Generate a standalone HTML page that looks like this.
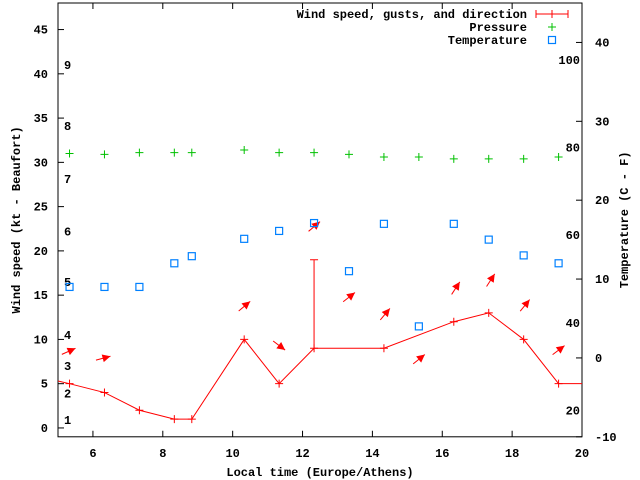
<!DOCTYPE html>
<html><head><meta charset="utf-8"><style>
body{margin:0;background:#fff}
svg{display:block;font-family:"Liberation Mono",monospace;font-size:12px;font-weight:bold}
</style></head><body>
<svg id="c" width="640" height="480" xmlns="http://www.w3.org/2000/svg"></svg>
<script>
const times=[5.33,6.33,7.33,8.33,8.83,10.33,11.33,12.33,13.33,14.33,15.33,16.33,17.33,18.33,19.33];
const windTimes=[5.33,6.33,7.33,8.33,8.83,10.33,11.33,12.33,14.33,16.33,17.33,18.33,19.33];
const windSpeed=[5,4,2,1,1,10,5,9,9,12,13,10,5];
const gustTime=[12.33];
const gustValue=[19];
const pressure=[31,30.9,31.1,31.1,31.1,31.4,31.1,31.1,30.9,30.6,30.6,30.4,30.4,30.4,30.6];
const temperature=[9,9,9,12,12.9,15.1,16.1,17.1,11,17,4,17,15,13,12];
const arrowTimes=[5.33,6.33,10.33,11.33,12.33,13.33,14.33,15.33,16.33,17.33,18.33,19.33];
const arrowLevel=[9.0,8.1,14.3,8.8,23.3,15.3,13.5,8.3,16.5,17.4,14.5,9.3];
const arrowAngle=[24,15,40,-37,40,38,50,39,57,57,51,37];
const xTicks=[6,8,10,12,14,16,18,20];
const yTicks=[0,5,10,15,20,25,30,35,40,45];
const y2Ticks=[-10,0,10,20,30,40];
const fTicks=[20,40,60,80,100];
const bftLabels=[1,2,3,4,5,6,7,8,9];
const bftLevel=[0.9,3.9,7,10.5,16.5,22.2,28.1,34.1,41];

const L=58,R=582,T=3,B=436.8;
const X=v=>L+(v-5)/(20-5)*(R-L);
const Y=v=>B-(v+1)/(48+1)*(B-T);
const Y2=v=>B-(v+10)/(45+10)*(B-T);
const svg=document.getElementById('c');
const NS='http://www.w3.org/2000/svg';
function mk(tag,attrs,parent){const e=document.createElementNS(NS,tag);for(const k in attrs)e.setAttribute(k,attrs[k]);(parent||svg).appendChild(e);return e;}
function txt(s,x,y,anchor,name){const t=mk('text',{x:x,y:y,'text-anchor':anchor});t.textContent=s;


return t;}
function plus(x,y,col,name){const g=mk('path',{d:`M${x-4},${y}h8M${x},${y-4}v8`,stroke:col,'stroke-width':1,fill:'none'});

}

// frame
const fr=mk('rect',{x:L,y:T,width:R-L,height:B-T,fill:'none',stroke:'#000','stroke-width':1});


xTicks.forEach(v=>{const x=X(v);mk('path',{d:`M${x},${B}v-6M${x},${T}v6`,stroke:'#000'});
txt(String(v),x,B+20,'middle','x-tick-label');});
yTicks.forEach(v=>{const y=Y(v);mk('path',{d:`M${L},${y}h6`,stroke:'#000'});
txt(String(v),L-10,y+4,'end','y-tick-label');});
y2Ticks.forEach(v=>{const y=Y2(v);mk('path',{d:`M${R},${y}h-6`,stroke:'#000'});
txt(String(v),R+13,y+4,'start','y2-tick-label');});
fTicks.forEach(v=>{const y=Y2((v-32)*5/9);txt(String(v),R-2,y+4,'end','fahrenheit-label');});
bftLabels.forEach((v,i)=>{txt(String(v),64,Y(bftLevel[i])+4,'start','beaufort-label');});

txt('Local time (Europe/Athens)',(L+R)/2,476,'middle','x-axis-title');
const yt=txt('Wind speed (kt - Beaufort)',0,0,'middle','y-axis-title');yt.setAttribute('transform',`translate(20,${(T+B)/2}) rotate(-90)`);
const y2t=txt('Temperature (C - F)',0,0,'middle','y2-axis-title');y2t.setAttribute('transform',`translate(628,${(T+B)/2}) rotate(-90)`);

// wind line
let d=`M${L},${Y(windSpeed[0]+0.3)}`;
windTimes.forEach((t,i)=>{d+=`L${X(t)},${Y(windSpeed[i])}`;});
d+=`L${R},${Y(windSpeed[windSpeed.length-1])}`;
const wl=mk('path',{d:d,stroke:'#f00',fill:'none','stroke-width':1});


windTimes.forEach((t,i)=>plus(X(t),Y(windSpeed[i]),'#f00','wind-point'));
gustTime.forEach((t,i)=>{const gi=windTimes.indexOf(t);const x=X(t);
const g=mk('path',{d:`M${x},${Y(windSpeed[gi])}V${Y(gustValue[i])}M${x-4},${Y(gustValue[i])}h8`,stroke:'#f00',fill:'none'});

});

// arrows
arrowTimes.forEach((t,i)=>{const hx=X(t)+6,hy=Y(arrowLevel[i]);const a=arrowAngle[i]*Math.PI/180;
const dx=Math.cos(a),dy=-Math.sin(a),len=15;const tx=hx-dx*len,ty=hy-dy*len;
const px=-dy,py=dx;
const g=mk('g',{});


mk('line',{x1:tx,y1:ty,x2:hx,y2:hy,stroke:'#f00'},g);
mk('polygon',{points:`${hx},${hy} ${hx-dx*8+px*4},${hy-dy*8+py*4} ${hx-dx*8-px*4},${hy-dy*8-py*4}`,fill:'#f00'},g);});

// pressure
times.forEach((t,i)=>plus(X(t),Y(pressure[i]),'#00c000','pressure-point'));
// temperature
times.forEach((t,i)=>{const r=mk('rect',{x:X(t)-3.5,y:Y2(temperature[i])-3.5,width:7,height:7,fill:'none',stroke:'#0080ff','stroke-width':1.2});

});

// legend
txt('Wind speed, gusts, and direction',527,18,'end','legend-wind-label');
const lw=mk('path',{d:'M536,14h32M536,10v8M568,10v8M552,10v8',stroke:'#f00',fill:'none'});


txt('Pressure',527,31,'end','legend-pressure-label');
plus(552,27,'#00c000','legend-pressure-sample');
txt('Temperature',527,44,'end','legend-temperature-label');
const lt=mk('rect',{x:548.5,y:36.5,width:7,height:7,fill:'none',stroke:'#0080ff','stroke-width':1.2});


</script>
</body></html>
